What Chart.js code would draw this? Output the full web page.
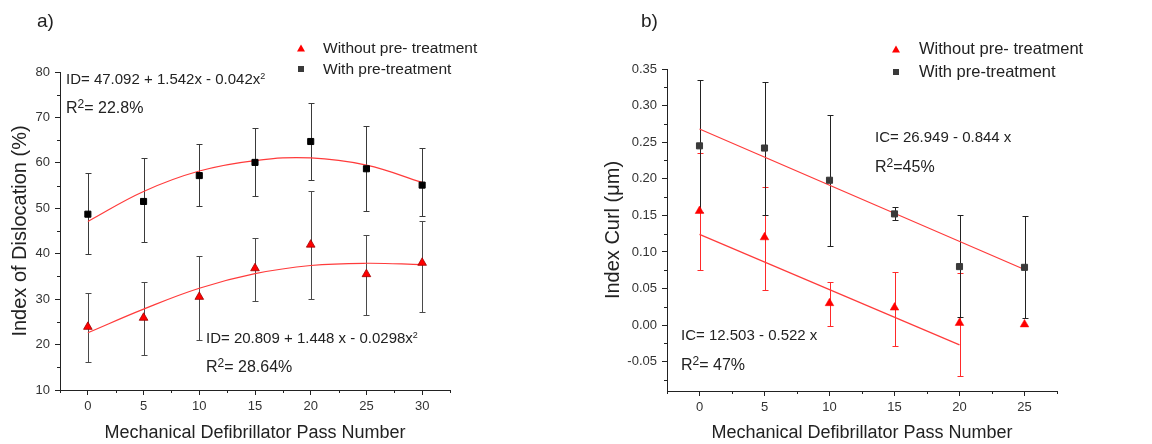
<!DOCTYPE html>
<html>
<head>
<meta charset="utf-8">
<script src="https://cdn.jsdelivr.net/npm/chart.js@4.4.1/dist/chart.umd.min.js"></script>
<style>
  body { margin: 0; background: #fff; }
  #wrap { position: relative; width: 1152px; height: 444px; font-family: "Liberation Sans", Arial, sans-serif; color: #222; }
  canvas { position: absolute; top: 0; }
  .t { position: absolute; white-space: nowrap; transform: translateY(-50%); line-height: 1.2; }
  .t sup { position: relative; top: -0.55em; vertical-align: baseline; line-height: 0; font-size: 0.6em; }
  .t.r2 sup { font-size: 0.75em; top: -0.45em; }
  .tri { position: absolute; width: 0; height: 0; border-left: 4px solid transparent; border-right: 4px solid transparent; border-bottom: 7px solid #ff0000; transform: translate(-50%, -50%); }
  .sq { position: absolute; width: 6px; height: 6px; background: #3a3a3a; transform: translate(-50%, -50%); }
</style>
</head>
<body>
<div id="wrap">
  <canvas id="chartA" width="570" height="444" style="left:0"></canvas>
  <canvas id="chartB" width="582" height="444" style="left:570px"></canvas>

  <div class="t" style="left:37px;top:21px;font-size:19px">a)</div>
  <div class="t" style="left:641px;top:21px;font-size:19px">b)</div>

  <div class="tri" style="left:301px;top:48px"></div>
  <div class="t" style="left:323px;top:48px;font-size:15.5px">Without pre- treatment</div>
  <div class="sq" style="left:301px;top:69px"></div>
  <div class="t" style="left:323px;top:69px;font-size:15.5px">With pre-treatment</div>

  <div class="tri" style="left:896px;top:49px"></div>
  <div class="t" style="left:919px;top:49px;font-size:16.5px">Without pre- treatment</div>
  <div class="sq" style="left:896px;top:72px"></div>
  <div class="t" style="left:919px;top:72px;font-size:16.5px">With pre-treatment</div>

  <div class="t" style="left:66px;top:79px;font-size:15px">ID= 47.092 + 1.542x - 0.042x<sup>2</sup></div>
  <div class="t r2" style="left:66px;top:108px;font-size:16px">R<sup>2</sup>= 22.8%</div>
  <div class="t" style="left:206px;top:338px;font-size:15px">ID= 20.809 + 1.448 x - 0.0298x<sup>2</sup></div>
  <div class="t r2" style="left:206px;top:367px;font-size:16px">R<sup>2</sup>= 28.64%</div>

  <div class="t" style="left:875px;top:137px;font-size:15px">IC= 26.949 - 0.844 x</div>
  <div class="t r2" style="left:875px;top:167px;font-size:16px">R<sup>2</sup>=45%</div>
  <div class="t" style="left:681px;top:335px;font-size:15px">IC= 12.503 - 0.522 x</div>
  <div class="t r2" style="left:681px;top:365px;font-size:16px">R<sup>2</sup>= 47%</div>
</div>

<script>
// panel a) index of dislocation
const passesA = [0, 5, 10, 15, 20, 25, 30];
const withPreA = [48.7, 51.5, 57.2, 60.1, 64.7, 58.7, 55.1];
const withPreALow = [39.9, 42.5, 50.5, 52.7, 56.2, 49.3, 48.4];
const withPreAHigh = [57.7, 61.0, 64.1, 67.7, 73.2, 68.2, 63.2];
const withoutPreA = [23.9, 25.9, 30.5, 36.8, 42.0, 35.5, 38.0];
const withoutPreALow = [16.2, 17.7, 21.0, 29.7, 30.1, 26.5, 27.2];
const withoutPreAHigh = [31.4, 33.8, 39.6, 43.4, 53.7, 44.2, 47.1];
const fitWithA = [47.1, 53.7, 58.2, 60.5, 61.1, 59.5, 55.7];
const fitWithoutA = [22.6, 27.8, 32.4, 35.6, 37.4, 37.9, 37.6];
const xTicksA = [0, 5, 10, 15, 20, 25, 30];
const yTicksA = [10, 20, 30, 40, 50, 60, 70, 80];

// panel b) index curl
const passesB = [0, 5, 10, 15, 20, 25];
const withPreB = [0.245, 0.242, 0.198, 0.152, 0.080, 0.079];
const withPreBLow = [0.155, 0.151, 0.108, 0.143, 0.011, 0.010];
const withPreBHigh = [0.335, 0.332, 0.287, 0.162, 0.150, 0.149];
const withoutPreB = [0.156, 0.120, 0.030, 0.024, 0.003, 0.001];
const withoutPreBLow = [0.075, 0.048, -0.001, -0.028, -0.069, null];
const withoutPreBHigh = [0.235, 0.189, 0.059, 0.072, 0.071, null];
const fitWithBX = [0, 25];
const fitWithB = [0.268, 0.076];
const fitWithoutBX = [0, 20];
const fitWithoutB = [0.124, -0.027];
const xTicksB = [0, 5, 10, 15, 20, 25];
const yTicksB = [-0.05, 0, 0.05, 0.10, 0.15, 0.20, 0.25, 0.30, 0.35];

Chart.defaults.font.family = '"Liberation Sans", Arial, sans-serif';
const axisColor = "#222";

const pts = (xs, ys) => xs.map((x, i) => ({ x, y: ys[i] }));

// vertical error bars under the markers
const errorBars = {
  id: "errorBars",
  beforeDatasetsDraw(chart) {
    const ctx = chart.ctx;
    const ys = chart.scales.y;
    chart.data.datasets.forEach((ds, i) => {
      if (!ds.errLow) return;
      const meta = chart.getDatasetMeta(i);
      ctx.save();
      ctx.strokeStyle = ds.errColor;
      ctx.lineWidth = 1;
      meta.data.forEach((pt, j) => {
        if (ds.errLow[j] == null) return;
        const x = Math.round(pt.x) + 0.5;
        const top = Math.round(ys.getPixelForValue(ds.errHigh[j])) + 0.5;
        const bot = Math.round(ys.getPixelForValue(ds.errLow[j])) + 0.5;
        ctx.beginPath();
        ctx.moveTo(x, top); ctx.lineTo(x, bot);
        ctx.moveTo(x - 3, top); ctx.lineTo(x + 3, top);
        ctx.moveTo(x - 3, bot); ctx.lineTo(x + 3, bot);
        ctx.stroke();
      });
      ctx.restore();
    });
  }
};

// short ticks half way between the labelled ones
const minorTicks = {
  id: "minorTicks",
  afterDraw(chart) {
    const ctx = chart.ctx;
    const area = chart.chartArea;
    const mids = (s) => {
      const v = s.ticks.map(t => t.value);
      const step = v[1] - v[0];
      const out = [];
      for (let m = v[0] - step / 2; m <= s.max + 1e-9; m += step) {
        if (m >= s.min - 1e-9) out.push(m);
      }
      return out;
    };
    ctx.save();
    ctx.strokeStyle = axisColor;
    ctx.lineWidth = 1;
    ctx.beginPath();
    mids(chart.scales.x).forEach(v => {
      const px = Math.round(chart.scales.x.getPixelForValue(v)) + 0.5;
      ctx.moveTo(px, area.bottom); ctx.lineTo(px, area.bottom + 3);
    });
    mids(chart.scales.y).forEach(v => {
      const py = Math.round(chart.scales.y.getPixelForValue(v)) + 0.5;
      ctx.moveTo(area.left, py); ctx.lineTo(area.left - 3, py);
    });
    ctx.stroke();
    ctx.restore();
  }
};

function makeChart(id, p) {
  return new Chart(document.getElementById(id), {
    type: "scatter",
    data: { datasets: p.datasets },
    options: {
      responsive: false,
      animation: false,
      layout: { padding: p.padding },
      plugins: { legend: { display: false }, tooltip: { enabled: false } },
      scales: {
        x: {
          type: "linear", min: p.xMin, max: p.xMax,
          afterBuildTicks: s => { s.ticks = p.xTicks.map(v => ({ value: v })); },
          afterFit: s => { s.height = p.xHeight; },
          grid: { drawOnChartArea: false, tickLength: 5, tickColor: axisColor },
          border: { color: axisColor },
          ticks: { font: { size: 13 }, color: "#333", padding: 4, maxRotation: 0 },
          title: { display: true, text: "Mechanical Defibrillator Pass Number", font: { size: 18 }, color: "#222", padding: { top: 0, bottom: 0 } }
        },
        y: {
          type: "linear", min: p.yMin, max: p.yMax,
          afterBuildTicks: s => { s.ticks = p.yTicks.map(v => ({ value: v })); },
          afterFit: s => { s.width = p.yWidth; },
          grid: { drawOnChartArea: false, tickLength: 5, tickColor: axisColor },
          border: { color: axisColor },
          ticks: { font: { size: 13 }, color: "#333", padding: 5, callback: p.yFormat },
          title: { display: true, text: p.yTitle, font: { size: 20 }, color: "#222", padding: { top: p.yTitlePad, bottom: 0 } }
        }
      }
    },
    plugins: [errorBars, minorTicks]
  });
}

makeChart("chartA", {
  padding: { top: 72, right: 120, left: 0, bottom: 0 },
  xMin: -2.5, xMax: 32.5, xTicks: xTicksA, xHeight: 54,
  yMin: 10, yMax: 80, yTicks: yTicksA, yWidth: 60, yTitlePad: 8,
  yTitle: "Index of Dislocation (%)",
  yFormat: v => String(v),
  datasets: [
    { label: "Without pre- treatment", data: pts(passesA, withoutPreA), pointStyle: "triangle", pointRadius: 5,
      backgroundColor: "#ff0000", borderColor: "#a00000", borderWidth: 0.8,
      errLow: withoutPreALow, errHigh: withoutPreAHigh, errColor: "#4a4a4a" },
    { label: "With pre-treatment", data: pts(passesA, withPreA), pointStyle: "rect", pointRadius: 4.3,
      backgroundColor: "#000", borderColor: "#000", borderWidth: 1,
      errLow: withPreALow, errHigh: withPreAHigh, errColor: "#3a3a3a" },
    { label: "fit without", data: pts(passesA, fitWithoutA), showLine: true, tension: 0.4, pointRadius: 0,
      borderColor: "#ff3b3b", borderWidth: 1.2 },
    { label: "fit with", data: pts(passesA, fitWithA), showLine: true, tension: 0.4, pointRadius: 0,
      borderColor: "#ff3b3b", borderWidth: 1.2 }
  ]
});

makeChart("chartB", {
  padding: { top: 69, right: 95, left: 0, bottom: 0 },
  xMin: -2.5, xMax: 27.5, xTicks: xTicksB, xHeight: 53,
  yMin: -0.09, yMax: 0.35, yTicks: yTicksB, yWidth: 97, yTitlePad: 31,
  yTitle: "Index Curl (\u03bcm)",
  yFormat: v => v.toFixed(2),
  datasets: [
    { label: "Without pre- treatment", data: pts(passesB, withoutPreB), pointStyle: "triangle", pointRadius: 5,
      backgroundColor: "#ff0000", borderColor: "#ff0000", borderWidth: 0.5,
      errLow: withoutPreBLow, errHigh: withoutPreBHigh, errColor: "#ff2a2a" },
    { label: "With pre-treatment", data: pts(passesB, withPreB), pointStyle: "rect", pointRadius: 4.3,
      backgroundColor: "#3a3a3a", borderColor: "#3a3a3a", borderWidth: 1,
      errLow: withPreBLow, errHigh: withPreBHigh, errColor: "#222" },
    { label: "fit without", data: pts(fitWithoutBX, fitWithoutB), showLine: true, pointRadius: 0,
      borderColor: "#ff3b3b", borderWidth: 1.2 },
    { label: "fit with", data: pts(fitWithBX, fitWithB), showLine: true, pointRadius: 0,
      borderColor: "#ff3b3b", borderWidth: 1.2 }
  ]
});
</script>
</body>
</html>
